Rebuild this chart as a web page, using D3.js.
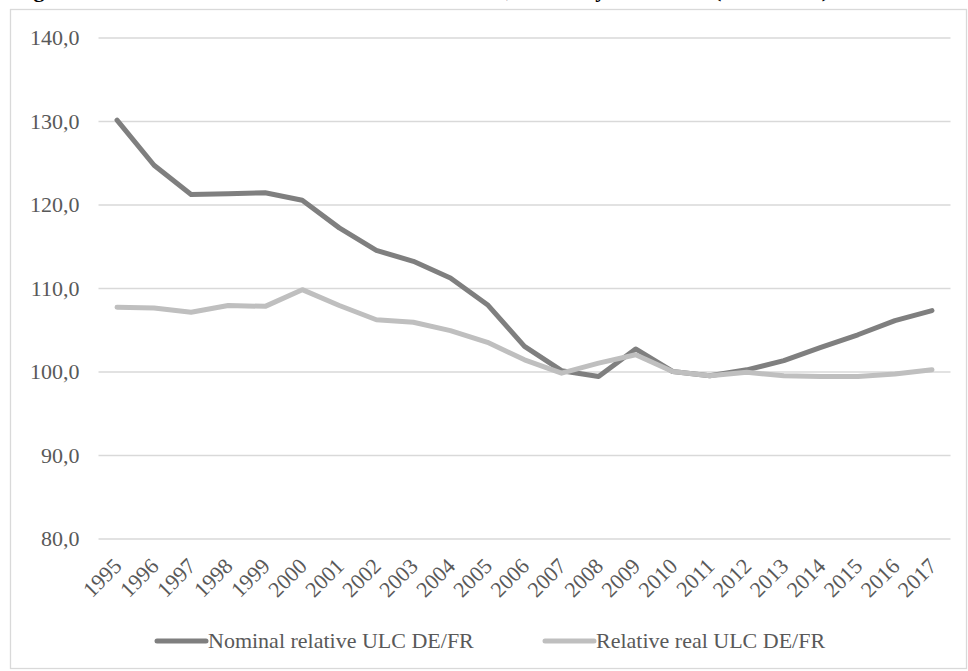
<html lang="en">
<head>
  <meta charset="UTF-8"/>
  <title>Relative ULC DE/FR</title>
  <script src="https://d3js.org/d3.v7.min.js"></script>
</head>
<style>
body {
  margin: 0;
  background: #fff;
  font-family: 'Liberation Serif', 'Times New Roman', serif;
}

svg {
  display: block;
}

text {
  fill: #595959;
  font-family: 'Liberation Serif', 'Times New Roman', serif;
}

.grid .tick line {
  stroke: #d9d9d9;
  stroke-width: 1.3;
}

.grid text, .xaxis text, .legend text {
  font-size: 22px;
}

text.title {
  font-size: 22px;
  font-weight: bold;
  fill: #000;
}
</style>
<body>
<svg width="968" height="671"></svg>
<script>
    const years = d3.range(1995, 2018).map(String);
    const seriesNames = ['Nominal relative ULC DE/FR', 'Relative real ULC DE/FR'];
    const nominal = [130.1, 124.7, 121.2, 121.3, 121.4, 120.5, 117.2, 114.5, 113.2, 111.2, 108.0,
                     103.0, 100.1, 99.4, 102.7, 100.0, 99.5, 100.2, 101.3, 102.9, 104.4, 106.1, 107.3];
    const real = [107.7, 107.6, 107.1, 107.9, 107.8, 109.8, 107.9, 106.2, 105.9, 104.9, 103.5,
                  101.4, 99.8, 101.0, 102.0, 100.0, 99.5, 99.9, 99.5, 99.4, 99.4, 99.7, 100.2];
    const yTicks = [80, 90, 100, 110, 120, 130, 140];
    const colors = ['#7f7f7f', '#bfbfbf'];

    const svg = d3.select('svg');

    // outer chart border
    svg.append('rect')
      .attr('x', 10.5)
      .attr('y', 9.5)
      .attr('width', 956)
      .attr('height', 659)
      .attr('fill', 'none')
      .attr('stroke', '#d9d9d9')
      .attr('stroke-width', 1.3);

    // title, mostly cut off above the picture (as in the source image)
    svg.append('text')
      .attr('class', 'title')
      .attr('x', 14)
      .attr('y', -3)
      .text('Figure 4: Nominal and real relative unit labour costs, Germany vs. France (2010 = 100)');

    const plotLeft = 98.5, plotRight = 950.5, plotTop = 37.5, plotBottom = 538.5;

    const xScale = d3.scaleBand()
      .domain(years)
      .range([plotLeft, plotRight]);

    const yScale = d3.scaleLinear()
      .domain([80, 140])
      .range([plotBottom, plotTop]);

    const fmt = (d) => d3.format('.1f')(d).replace('.', ',');

    svg.append('g')
      .attr('class', 'grid')
      .attr('transform', `translate(${plotLeft}, 0)`)
      .call(d3.axisLeft(yScale)
        .tickValues(yTicks)
        .tickSize(-(plotRight - plotLeft))
        .tickPadding(19)
        .tickFormat(fmt))
      .call(g => g.select('.domain').remove())
      .attr('font-family', null)
      .attr('font-size', null);

    const xAxis = svg.append('g')
      .attr('class', 'xaxis')
      .attr('transform', `translate(0, ${plotBottom})`)
      .call(d3.axisBottom(xScale).tickSize(0))
      .call(g => g.select('.domain').remove())
      .attr('font-family', null)
      .attr('font-size', null);

    xAxis.selectAll('text')
      .attr('x', 0)
      .attr('y', 0)
      .attr('dy', 0)
      .attr('text-anchor', 'end')
      .attr('transform', 'translate(6, 29) rotate(-45)');

    const cx = (d, i) => xScale(years[i]) + xScale.bandwidth() / 2;

    const line = d3.line()
      .x(cx)
      .y((d) => yScale(d));

    [nominal, real].forEach((s, i) => {
      svg.append('path')
        .datum(s)
        .attr('fill', 'none')
        .attr('stroke', colors[i])
        .attr('stroke-width', 5)
        .attr('stroke-linejoin', 'round')
        .attr('stroke-linecap', 'round')
        .attr('d', line);
    });

    // legend
    const legendX = [155, 543];
    const legend = svg.append('g').attr('class', 'legend');
    seriesNames.forEach((name, i) => {
      legend.append('line')
        .attr('x1', legendX[i] + 2)
        .attr('x2', legendX[i] + 51)
        .attr('y1', 641)
        .attr('y2', 641)
        .attr('stroke', colors[i])
        .attr('stroke-width', 5)
        .attr('stroke-linecap', 'round');
      legend.append('text')
        .attr('x', legendX[i] + 53)
        .attr('y', 648)
        .text(name);
    });
</script>
</body>
</html>
